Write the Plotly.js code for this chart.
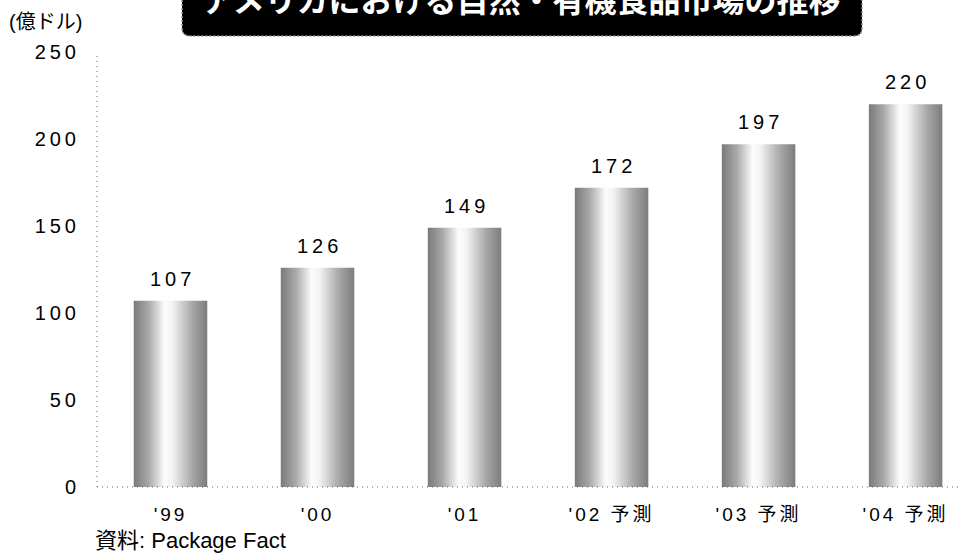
<!DOCTYPE html>
<html>
<head>
<meta charset="utf-8">
<script src="https://cdn.plot.ly/plotly-3.0.1.min.js"></script>
<style>
html,body{margin:0;padding:0;background:#fff;}
#chart{width:976px;height:559px;}
.ytick text{letter-spacing:4px;}
.xtick text{letter-spacing:3px;}
.annotation.vlabel text{letter-spacing:4px;}
</style>
</head>
<body>
<div id="chart"></div>
<script>
// Data
const categories = ["'99", "'00", "'01", "'02 予測", "'03 予測", "'04 予測"];
const values = [107, 126, 149, 172, 197, 220];
const yTickVals = [0, 50, 100, 150, 200, 250];
const yTickText = ["0", "50", "100", "150", "200", "250"];
const titleText = "アメリカにおける自然・有機食品市場の推移";
const unitText = "(億ドル)";
const sourceText = "資料: Package Fact";

const xIdx = categories.map((c, i) => i);
const baseFont = "'Liberation Sans', Arial, 'Noto Sans CJK JP', sans-serif";
const jpFont = "'Noto Sans CJK JP', 'Liberation Sans', Arial, sans-serif";

const trace = {
  type: 'bar',
  x: xIdx,
  y: values,
  width: 0.5,
  marker: {color: '#bbbbbb', line: {width: 0}},
  hoverinfo: 'none'
};

// value labels
const valueAnns = values.map((v, i) => ({
  x: i, y: v, xref: 'x', yref: 'y',
  text: String(v), showarrow: false,
  yanchor: 'bottom', xanchor: 'center', yshift: 9, xshift: 2,
  font: {family: baseFont, size: 20, color: '#000'}
}));

// rounded title box (paper coords)
function px2x(p){ return (p - 97) / 863; }
function py2y(p){ return (487 - p) / 435; }
const bx0 = px2x(182), bx1 = px2x(862), by0 = py2y(36), by1 = py2y(-20);
const rx = 8/863, ry = 8/435;
const boxPath = `M ${bx0} ${by1} L ${bx0} ${by0+ry} Q ${bx0} ${by0} ${bx0+rx} ${by0} L ${bx1-rx} ${by0} Q ${bx1} ${by0} ${bx1} ${by0+ry} L ${bx1} ${by1} Z`;

const layout = {
  width: 976, height: 559,
  margin: {l: 97, r: 16, t: 52, b: 72},
  paper_bgcolor: '#fff', plot_bgcolor: '#fff',
  showlegend: false,
  bargap: 0.5,
  xaxis: {
    range: [-0.5, 5.37],
    tickmode: 'array', tickvals: xIdx, ticktext: categories,
    showgrid: false, zeroline: false, showline: false,
    ticks: 'outside', ticklen: 10, tickcolor: 'rgba(0,0,0,0)',
    tickfont: {family: baseFont, size: 19, color: '#000'},
    fixedrange: true
  },
  yaxis: {
    range: [0, 250],
    tickmode: 'array', tickvals: yTickVals, ticktext: yTickText,
    showgrid: false, zeroline: false, showline: false,
    ticks: 'outside', ticklen: 12, tickcolor: 'rgba(0,0,0,0)',
    tickfont: {family: baseFont, size: 20, color: '#000'},
    fixedrange: true
  },
  shapes: [
    {type: 'line', xref: 'paper', yref: 'paper', x0: 0, x1: 1, y0: 0, y1: 0,
     line: {color: '#666', width: 1, dash: '1px,4px'}},
    {type: 'line', xref: 'paper', yref: 'paper', x0: 0, x1: 0, y0: 0, y1: 1,
     line: {color: '#666', width: 1, dash: '1px,4px'}},
    {type: 'path', xref: 'paper', yref: 'paper', path: boxPath,
     fillcolor: '#000', line: {color: '#999', width: 1.5, dash: '2px,2px'}, layer: 'above'}
  ],
  annotations: valueAnns.concat([
    {xref: 'paper', yref: 'paper', x: px2x(521), y: py2y(-2),
     text: '<b>' + titleText + '</b>', showarrow: false,
     xanchor: 'center', yanchor: 'middle',
     font: {family: jpFont, size: 32, color: '#fff'}},
    {xref: 'paper', yref: 'paper', x: px2x(7), y: py2y(22),
     text: unitText, showarrow: false, xanchor: 'left', yanchor: 'middle',
     font: {family: baseFont, size: 20, color: '#000'}},
    {xref: 'paper', yref: 'paper', x: px2x(93), y: py2y(540),
     text: sourceText, showarrow: false, xanchor: 'left', yanchor: 'middle',
     font: {family: baseFont, size: 22, color: '#000'}}
  ])
};

Plotly.newPlot('chart', [trace], layout, {displayModeBar: false, staticPlot: true}).then(gd => {
  const svg = gd.querySelector('.main-svg');
  const ns = 'http://www.w3.org/2000/svg';
  let defs = svg.querySelector('defs');
  if (!defs) { defs = document.createElementNS(ns, 'defs'); svg.insertBefore(defs, svg.firstChild); }
  const g = document.createElementNS(ns, 'linearGradient');
  g.setAttribute('id', 'barGrad');
  g.setAttribute('x1', '0'); g.setAttribute('x2', '1'); g.setAttribute('y1', '0'); g.setAttribute('y2', '0');
  [[0, '#7a7a7a'], [0.2, '#a8a8a8'], [0.42, '#fcfcfc'], [0.52, '#f4f4f4'], [0.8, '#a6a6a6'], [1, '#7c7c7c']].forEach(([o, c]) => {
    const s = document.createElementNS(ns, 'stop');
    s.setAttribute('offset', o); s.setAttribute('stop-color', c);
    g.appendChild(s);
  });
  defs.appendChild(g);
  gd.querySelectorAll('.bars .point path').forEach(p => { p.style.fill = 'url(#barGrad)'; p.style.fillOpacity = 1; });
  gd.querySelectorAll('.annotation').forEach((a, i) => { if (i < values.length) a.classList.add('vlabel'); });
});
</script>
</body>
</html>
